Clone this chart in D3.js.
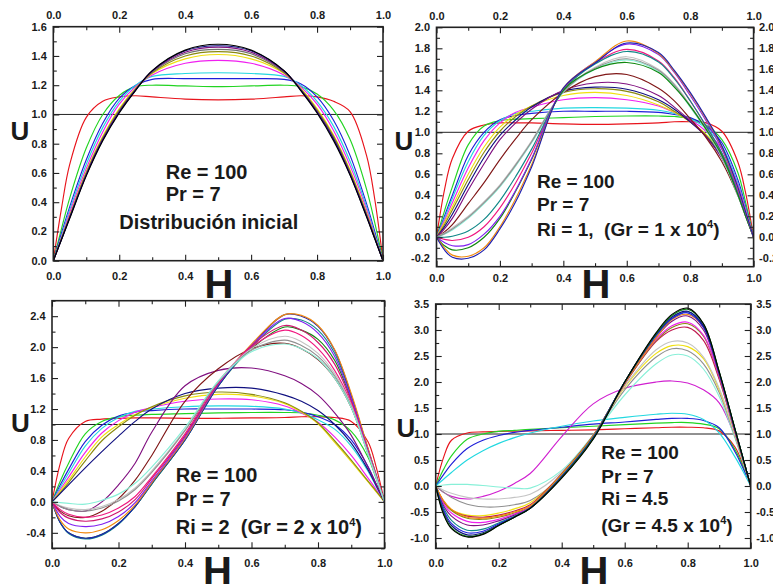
<!DOCTYPE html>
<html>
<head>
<meta charset="utf-8">
<script src="https://cdn.jsdelivr.net/npm/d3@7"></script>
<style>
  html, body { margin: 0; padding: 0; background: #fff; }
  svg text { font-family: "Liberation Sans", Arial, sans-serif; font-weight: bold; fill: #1a1a1a; }
</style>
</head>
<body>
<svg id="fig" width="773" height="584"></svg>
<script>
// Transverse positions H where every velocity profile U(H) is sampled
const hGrid = [0, 0.025, 0.05, 0.1, 0.15, 0.2, 0.25, 0.3, 0.4, 0.5, 0.6, 0.7, 0.75, 0.8, 0.85, 0.9, 0.95, 0.975, 1];
const hTicks = [0, 0.2, 0.4, 0.6, 0.8, 1.0];

// Panel 1: distribución inicial
const ticksInicial = [0, 0.2, 0.4, 0.6, 0.8, 1.0, 1.2, 1.4, 1.6];
const uInicial = [
  [0, .36, .66, .98, 1.09, 1.12, 1.128, 1.12, 1.105, 1.10, 1.105, 1.12, 1.128, 1.12, 1.09, 1.02, .72, .42, 0],
  [0, .22, .43, .77, 1.0, 1.13, 1.19, 1.2, 1.195, 1.19, 1.195, 1.2, 1.19, 1.14, 1.03, .83, .49, .26, 0],
  [0, .19, .37, .69, .94, 1.11, 1.2, 1.24, 1.245, 1.245, 1.245, 1.24, 1.21, 1.12, .96, .72, .39, .2, 0],
  [0, .17, .35, .66, .91, 1.09, 1.2, 1.26, 1.28, 1.285, 1.28, 1.26, 1.2, 1.09, .92, .68, .37, .18, 0],
  [0, .16, .33, .63, .88, 1.07, 1.19, 1.27, 1.35, 1.37, 1.35, 1.27, 1.19, 1.07, .89, .65, .35, .17, 0],
  [0, .155, .31, .61, .85, 1.04, 1.18, 1.28, 1.38, 1.41, 1.38, 1.28, 1.18, 1.04, .86, .62, .33, .165, 0],
  [0, .152, .305, .6, .84, 1.03, 1.175, 1.285, 1.4, 1.43, 1.4, 1.285, 1.175, 1.03, .85, .61, .32, .16, 0],
  [0, .15, .3, .595, .835, 1.025, 1.172, 1.29, 1.415, 1.445, 1.415, 1.29, 1.172, 1.025, .84, .6, .315, .158, 0],
  [0, .148, .298, .59, .83, 1.02, 1.17, 1.295, 1.425, 1.46, 1.425, 1.295, 1.17, 1.02, .835, .595, .31, .155, 0],
  [0, .146, .295, .585, .825, 1.015, 1.168, 1.298, 1.435, 1.47, 1.435, 1.298, 1.168, 1.015, .83, .59, .305, .153, 0],
  [0, .145, .29, .58, .82, 1.01, 1.165, 1.3, 1.44, 1.48, 1.44, 1.3, 1.165, 1.01, .82, .585, .3, .15, 0]
];
const coloresInicial = ["#e8141c", "#22d422", "#1f1fd8", "#22d8e0", "#f020f0", "#f0e010", "#8a8a10", "#707070", "#801080", "#101080", "#000000"];

// Panel 2: Ri = 1
const ticksRi1 = [-0.2, 0, 0.2, 0.4, 0.6, 0.8, 1.0, 1.2, 1.4, 1.6, 1.8, 2.0];
const uRi1 = [
  [0, .45, .75, 1.01, 1.07, 1.09, 1.09, 1.09, 1.08, 1.075, 1.08, 1.09, 1.1, 1.1, 1.09, 1.01, .72, .42, 0],
  [0, .25, .48, .88, 1.06, 1.11, 1.125, 1.13, 1.14, 1.15, 1.155, 1.155, 1.15, 1.13, 1.07, .93, .62, .33, 0],
  [0, .2, .4, .78, 1.0, 1.12, 1.16, 1.18, 1.2, 1.2, 1.2, 1.19, 1.17, 1.14, 1.06, .9, .55, .29, 0],
  [0, .18, .37, .72, .97, 1.11, 1.18, 1.2, 1.23, 1.235, 1.23, 1.21, 1.18, 1.13, 1.04, .87, .52, .27, 0],
  [0, .16, .33, .66, .92, 1.09, 1.19, 1.24, 1.31, 1.33, 1.31, 1.25, 1.19, 1.12, 1.01, .84, .5, .26, 0],
  [0, .14, .29, .6, .86, 1.05, 1.17, 1.25, 1.35, 1.38, 1.35, 1.26, 1.19, 1.1, .98, .8, .47, .24, 0],
  [0, .12, .26, .55, .81, 1.01, 1.15, 1.25, 1.38, 1.415, 1.39, 1.29, 1.2, 1.1, .97, .78, .45, .23, 0],
  [0, .1, .22, .5, .76, .97, 1.12, 1.24, 1.39, 1.43, 1.41, 1.31, 1.22, 1.1, .96, .76, .43, .22, 0],
  [0, .08, .18, .45, .7, .93, 1.09, 1.22, 1.4, 1.47, 1.46, 1.35, 1.24, 1.11, .96, .75, .42, .21, 0],
  [0, .05, .12, .32, .52, .74, .94, 1.12, 1.38, 1.53, 1.55, 1.42, 1.3, 1.13, .95, .72, .4, .2, 0],
  [0, .04, .09, .2, .34, .5, .7, .92, 1.39, 1.62, 1.72, 1.6, 1.46, 1.26, 1.04, .78, .41, .2, 0],
  [0, .03, .07, .18, .32, .48, .68, .9, 1.38, 1.6, 1.69, 1.58, 1.44, 1.24, 1.02, .76, .4, .2, 0],
  [0, .035, .08, .19, .33, .49, .69, .91, 1.385, 1.61, 1.70, 1.59, 1.45, 1.25, 1.03, .77, .405, .2, 0],
  [0, -.02, -.03, 0, .1, .28, .52, .8, 1.41, 1.66, 1.79, 1.68, 1.52, 1.3, 1.06, .8, .42, .21, 0],
  [0, 0, .01, .06, .17, .35, .58, .84, 1.4, 1.65, 1.77, 1.67, 1.51, 1.3, 1.06, .8, .42, .21, 0],
  [0, -.08, -.12, -.1, 0, .18, .44, .74, 1.4, 1.6, 1.665, 1.57, 1.43, 1.25, 1.03, .78, .41, .2, 0],
  [0, -.05, -.08, -.07, .03, .2, .45, .75, 1.42, 1.67, 1.84, 1.74, 1.57, 1.35, 1.11, .84, .45, .23, 0],
  [0, -.1, -.17, -.18, -.1, .1, .37, .69, 1.42, 1.67, 1.87, 1.75, 1.58, 1.37, 1.13, .86, .47, .24, 0],
  [0, -.12, -.19, -.2, -.12, .08, .34, .67, 1.42, 1.66, 1.85, 1.76, 1.59, 1.38, 1.14, .87, .48, .24, 0]
];
const coloresRi1 = ["#e8141c", "#22d422", "#1f1fd8", "#22d8e0", "#f020f0", "#f0e010", "#8a8a10", "#101080", "#801080",
  "#801818", "#c4c4c4", "#88f0d8", "#909090", "#f01880", "#108888", "#108810", "#8020f0", "#f08a10", "#2020b0"];

// Panel 3: Ri = 2
const ticksRi2 = [-0.4, 0, 0.4, 0.8, 1.2, 1.6, 2.0, 2.4];
const uRi2 = [
  [0, .5, .82, 1.04, 1.07, 1.08, 1.085, 1.085, 1.08, 1.08, 1.085, 1.09, 1.1, 1.1, 1.09, 1.04, .78, .45, 0],
  [0, .27, .5, .88, 1.04, 1.1, 1.12, 1.13, 1.14, 1.15, 1.155, 1.155, 1.15, 1.12, 1.06, .91, .58, .3, 0],
  [0, .22, .42, .78, .99, 1.11, 1.16, 1.18, 1.2, 1.2, 1.2, 1.19, 1.16, 1.1, 1.0, .8, .46, .23, 0],
  [0, .19, .37, .72, .95, 1.09, 1.17, 1.2, 1.23, 1.24, 1.235, 1.2, 1.15, 1.06, .94, .72, .4, .2, 0],
  [0, .16, .32, .64, .89, 1.05, 1.16, 1.22, 1.3, 1.33, 1.32, 1.24, 1.15, 1.03, .84, .6, .31, .16, 0],
  [0, .14, .28, .58, .84, 1.0, 1.13, 1.22, 1.34, 1.39, 1.37, 1.27, 1.16, 1.01, .77, .52, .26, .13, 0],
  [0, .12, .25, .53, .79, .97, 1.12, 1.23, 1.37, 1.42, 1.39, 1.28, 1.17, 1.02, .79, .54, .27, .14, 0],
  [0, .11, .22, .44, .65, .85, 1.04, 1.2, 1.4, 1.47, 1.47, 1.38, 1.3, 1.18, 1.0, .76, .42, .21, 0],
  [0, -.06, -.1, -.12, 0, .22, .5, .9, 1.5, 1.7, 1.73, 1.63, 1.53, 1.38, 1.15, .86, .45, .23, 0],
  [0, -.12, -.18, -.2, -.12, .04, .28, .6, 1.3, 1.72, 1.98, 2.05, 1.98, 1.84, 1.6, 1.22, .63, .32, 0],
  [0, -.27, -.4, -.47, -.42, -.28, -.06, .23, .8, 1.5, 1.98, 2.26, 2.22, 2.1, 1.83, 1.32, .66, .33, 0],
  [0, -.27, -.41, -.48, -.43, -.29, -.06, .23, .8, 1.5, 2.0, 2.36, 2.35, 2.22, 1.92, 1.36, .68, .34, 0],
  [0, -.27, -.4, -.47, -.42, -.28, -.06, .24, .8, 1.5, 2.02, 2.42, 2.4, 2.27, 1.96, 1.38, .69, .35, 0],
  [0, -.24, -.35, -.4, -.36, -.24, -.04, .25, .82, 1.52, 2.04, 2.42, 2.41, 2.28, 1.97, 1.4, .7, .35, 0],
  [0, -.19, -.28, -.32, -.29, -.19, -.01, .27, .84, 1.52, 2.02, 2.37, 2.33, 2.18, 1.88, 1.34, .67, .34, 0],
  [0, -.14, -.21, -.25, -.22, -.13, .03, .3, .86, 1.53, 2.02, 2.28, 2.22, 2.06, 1.78, 1.3, .65, .33, 0],
  [0, -.1, -.16, -.2, -.17, -.08, .07, .32, .88, 1.55, 2.0, 2.22, 2.15, 1.98, 1.7, 1.27, .64, .32, 0],
  [0, -.05, -.08, -.1, -.06, .03, .18, .4, .93, 1.56, 1.98, 2.14, 2.07, 1.92, 1.66, 1.25, .63, .32, 0],
  [0, -.06, -.1, -.12, -.08, .01, .16, .38, .92, 1.55, 1.96, 2.09, 2.02, 1.88, 1.63, 1.23, .62, .31, 0],
  [0, -.01, -.02, -.03, .02, .1, .24, .45, .96, 1.56, 1.94, 2.04, 1.98, 1.85, 1.6, 1.22, .62, .31, 0]
];
const coloresRi2 = ["#e8141c", "#22d422", "#1f1fd8", "#22d8e0", "#f020f0", "#f0e010", "#8a8a10", "#101080", "#801080",
  "#801818", "#108810", "#108888", "#2020b0", "#f08a10", "#8020f0", "#d01870", "#f01880", "#c4c4c4", "#909090", "#88f0d8"];

// Panel 4: Ri = 4.5
const ticksRi45 = [-1.0, -0.5, 0, 0.5, 1.0, 1.5, 2.0, 2.5, 3.0, 3.5];
const uRi45 = [
  [0, .55, .88, 1.02, 1.04, 1.05, 1.055, 1.06, 1.07, 1.08, 1.1, 1.12, 1.13, 1.13, 1.12, 1.06, .75, .42, 0],
  [0, .32, .58, .9, 1.0, 1.05, 1.07, 1.09, 1.12, 1.15, 1.18, 1.21, 1.22, 1.22, 1.19, 1.1, .7, .38, 0],
  [0, .22, .42, .72, .88, .97, 1.03, 1.07, 1.13, 1.19, 1.23, 1.28, 1.3, 1.3, 1.26, 1.12, .66, .35, 0],
  [0, .13, .26, .5, .68, .82, .93, 1.02, 1.15, 1.25, 1.32, 1.38, 1.4, 1.38, 1.28, 1.02, .56, .29, 0],
  [0, -.12, -.2, -.25, -.2, -.1, .05, .24, .95, 1.58, 1.88, 2.0, 2.02, 1.98, 1.85, 1.6, .95, .5, 0],
  [0, .02, .03, .03, .01, -.02, -.04, -.04, .3, .98, 1.75, 2.35, 2.52, 2.5, 2.25, 1.72, .92, .46, 0],
  [0, -.12, -.22, -.35, -.4, -.4, -.36, -.28, .2, .96, 1.85, 2.48, 2.64, 2.6, 2.35, 1.8, .95, .48, 0],
  [0, -.3, -.45, -.56, -.57, -.52, -.44, -.32, .22, .97, 1.9, 2.55, 2.7, 2.68, 2.45, 1.85, .98, .5, 0],
  [0, -.08, -.14, -.22, -.25, -.25, -.22, -.16, .27, .98, 1.92, 2.62, 2.78, 2.75, 2.48, 1.88, .98, .5, 0],
  [0, -.3, -.46, -.58, -.6, -.56, -.48, -.36, .24, .97, 1.96, 2.78, 3.0, 3.05, 2.8, 2.05, 1.03, .52, 0],
  [0, -.3, -.47, -.62, -.64, -.6, -.52, -.4, .23, .97, 1.97, 2.8, 3.05, 3.12, 2.88, 2.08, 1.04, .52, 0],
  [0, -.34, -.52, -.68, -.7, -.64, -.54, -.41, .21, .95, 1.98, 2.82, 3.08, 3.15, 2.9, 2.1, 1.05, .53, 0],
  [0, -.38, -.58, -.75, -.75, -.67, -.56, -.42, .2, .95, 1.99, 2.86, 3.17, 3.27, 3.0, 2.14, 1.07, .54, 0],
  [0, -.28, -.45, -.6, -.62, -.58, -.5, -.38, .22, .96, 1.98, 2.85, 3.2, 3.3, 3.05, 2.16, 1.08, .54, 0],
  [0, -.42, -.66, -.85, -.83, -.71, -.58, -.42, .19, .94, 2.0, 2.9, 3.22, 3.35, 3.08, 2.18, 1.09, .55, 0],
  [0, -.46, -.72, -.9, -.87, -.73, -.59, -.43, .18, .93, 2.0, 2.9, 3.22, 3.33, 3.05, 2.16, 1.08, .54, 0],
  [0, -.5, -.76, -.94, -.9, -.75, -.6, -.43, .17, .92, 2.0, 2.92, 3.25, 3.36, 3.08, 2.18, 1.09, .55, 0],
  [0, -.53, -.8, -.97, -.92, -.76, -.6, -.43, .16, .91, 2.0, 2.93, 3.28, 3.4, 3.12, 2.2, 1.1, .55, 0],
  [0, -.55, -.82, -.98, -.93, -.76, -.6, -.43, .15, .9, 2.0, 2.95, 3.3, 3.42, 3.12, 2.2, 1.1, .55, 0]
];
const coloresRi45 = ["#e8141c", "#22d422", "#1f1fd8", "#22d8e0", "#d020d0", "#88f0d8", "#909090", "#f0e010", "#c4c4c4",
  "#c01850", "#8a8a10", "#f020f0", "#801080", "#f08a10", "#108888", "#2020e0", "#101080", "#108810", "#000000"];

const svg = d3.select("#fig");
const fmt = d => d.toFixed(1);

// Plot frames (pixel boxes) and options for each of the four panels
const panels = [
  { id: "p1", series: uInicial, colors: coloresInicial, ticks: ticksInicial, domain: [0, 1.6],
    left: 53.3, right: 383, top: 26.7, bottom: 260.7,
    topLabels: true, rightLabels: false, bottomLabelY: 14.5,
    uLabel: [20, 140], hLabel: [219, 298], textX: 165.7, textSize: 20,
    lines: [{ y: 179, t: "Re = 100" }, { y: 201, t: "Pr = 7" }, { y: 229.3, t: "Distribución inicial", x: 119.3 }] },
  { id: "p2", series: uRi1, colors: coloresRi1, ticks: ticksRi1, domain: [-0.28, 2.0],
    left: 436.5, right: 753.6, top: 27.3, bottom: 266.7,
    topLabels: true, rightLabels: true, bottomLabelY: 11,
    uLabel: [404, 150], hLabel: [596, 298], textX: 537, textSize: 19,
    lines: [{ y: 188.3, t: "Re = 100" }, { y: 210.7, t: "Pr = 7" }, { y: 235.5, t: "Ri = 1,  (Gr = 1 x 10", sup: "4", tail: ")" }] },
  { id: "p3", series: uRi2, colors: coloresRi2, ticks: ticksRi2, domain: [-0.6, 2.6],
    left: 52, right: 384.5, top: 300.7, bottom: 548.3,
    topLabels: false, rightLabels: false, bottomLabelY: 14,
    uLabel: [20.5, 432], hLabel: [217.5, 585], textX: 175.7, textSize: 20,
    lines: [{ y: 482.3, t: "Re = 100" }, { y: 506, t: "Pr = 7" }, { y: 533.5, t: "Ri = 2  (Gr = 2 x 10", sup: "4", tail: ")" }] },
  { id: "p4", series: uRi45, colors: coloresRi45, ticks: ticksRi45, domain: [-1.2, 3.5],
    left: 435.7, right: 750.7, top: 304, bottom: 548.4,
    topLabels: false, rightLabels: true, bottomLabelY: 13.4,
    uLabel: [406, 437], hLabel: [594, 585], textX: 601.3, textSize: 19,
    lines: [{ y: 459, t: "Re = 100" }, { y: 482.7, t: "Pr = 7" }, { y: 505, t: "Ri = 4.5" }, { y: 532, t: "(Gr = 4.5 x 10", sup: "4", tail: ")" }] }
];

function minorsBetween(majors, lo, hi) {
  const step = majors[1] - majors[0];
  const out = [];
  for (let v = majors[0] - step / 2; v <= hi + 1e-9; v += step / 2) {
    if (v >= lo - 1e-9 && !majors.some(m => Math.abs(m - v) < 1e-9)) out.push(+v.toFixed(4));
  }
  return out;
}

function styleAxis(g) {
  g.select(".domain").remove();
  g.selectAll(".tick line").attr("stroke", "#222").attr("stroke-width", 1.1);
  g.selectAll(".tick text").attr("font-size", 11).attr("fill", "#1a1a1a")
    .style("font-family", "'Liberation Sans', Arial, sans-serif").style("font-weight", "bold");
}

panels.forEach(p => {
  const x = d3.scaleLinear().domain([0, 1]).range([p.left, p.right]);
  const y = d3.scaleLinear().domain(p.domain).range([p.bottom, p.top]);
  const g = svg.append("g").attr("id", p.id);

  g.append("clipPath").attr("id", "clip-" + p.id)
    .append("rect").attr("x", p.left).attr("y", y(p.domain[1]))
    .attr("width", p.right - p.left).attr("height", p.bottom - y(p.domain[1]));

  // reference level U = 1
  g.append("line").attr("x1", x(0)).attr("x2", x(1)).attr("y1", y(1)).attr("y2", y(1))
    .attr("stroke", "#222").attr("stroke-width", 1);

  // velocity profiles
  const line = d3.line()
    .x((d, i) => x(hGrid[i]))
    .y(d => y(d))
    .curve(d3.curveCatmullRom.alpha(0.5));
  g.append("g").attr("clip-path", `url(#clip-${p.id})`)
    .selectAll("path").data(p.series).join("path")
    .attr("d", line)
    .attr("fill", "none")
    .attr("stroke", (d, i) => p.colors[i])
    .attr("stroke-width", 1.15);

  // axes with inward ticks on all four sides
  const xMinor = minorsBetween(hTicks, 0, 1);
  const yMinor = minorsBetween(p.ticks, p.domain[0], p.domain[1]);
  const yTop = y(p.domain[1]);

  const addAxis = (make, tr, majors, minors, labels, pad) => {
    g.append("g").attr("transform", tr)
      .call(make().tickValues(minors).tickSize(-3.5).tickFormat(""))
      .call(styleAxis);
    g.append("g").attr("transform", tr)
      .call(make().tickValues(majors).tickSize(-6).tickPadding(pad).tickFormat(labels ? fmt : ""))
      .call(styleAxis);
  };
  addAxis(() => d3.axisBottom(x), `translate(0,${p.bottom})`, hTicks, xMinor, true, p.bottomLabelY - 3);
  addAxis(() => d3.axisTop(x), `translate(0,${yTop})`, hTicks, xMinor, p.topLabels, 7.5);
  addAxis(() => d3.axisLeft(y), `translate(${p.left},0)`, p.ticks, yMinor, true, 6.5);
  addAxis(() => d3.axisRight(y), `translate(${p.right},0)`, p.ticks, yMinor, p.rightLabels, 5.5);

  // frame
  g.append("rect").attr("x", p.left).attr("y", yTop)
    .attr("width", p.right - p.left).attr("height", p.bottom - yTop)
    .attr("fill", "none").attr("stroke", "#222").attr("stroke-width", 1.6);

  // axis titles
  g.append("text").attr("x", p.uLabel[0]).attr("y", p.uLabel[1]).attr("text-anchor", "middle")
    .attr("font-size", 26).text("U");
  g.append("text").attr("x", p.hLabel[0]).attr("y", p.hLabel[1]).attr("text-anchor", "middle")
    .attr("font-size", 40).text("H");

  // parameter annotations
  p.lines.forEach(l => {
    const t = g.append("text").attr("x", l.x ?? p.textX).attr("y", l.y)
      .attr("font-size", p.textSize).style("white-space", "pre");
    t.append("tspan").text(l.t);
    if (l.sup) {
      t.append("tspan").attr("font-size", 11).attr("dy", -8).text(l.sup);
      t.append("tspan").attr("dy", 8).text(l.tail);
    }
  });
});
</script>
</body>
</html>
